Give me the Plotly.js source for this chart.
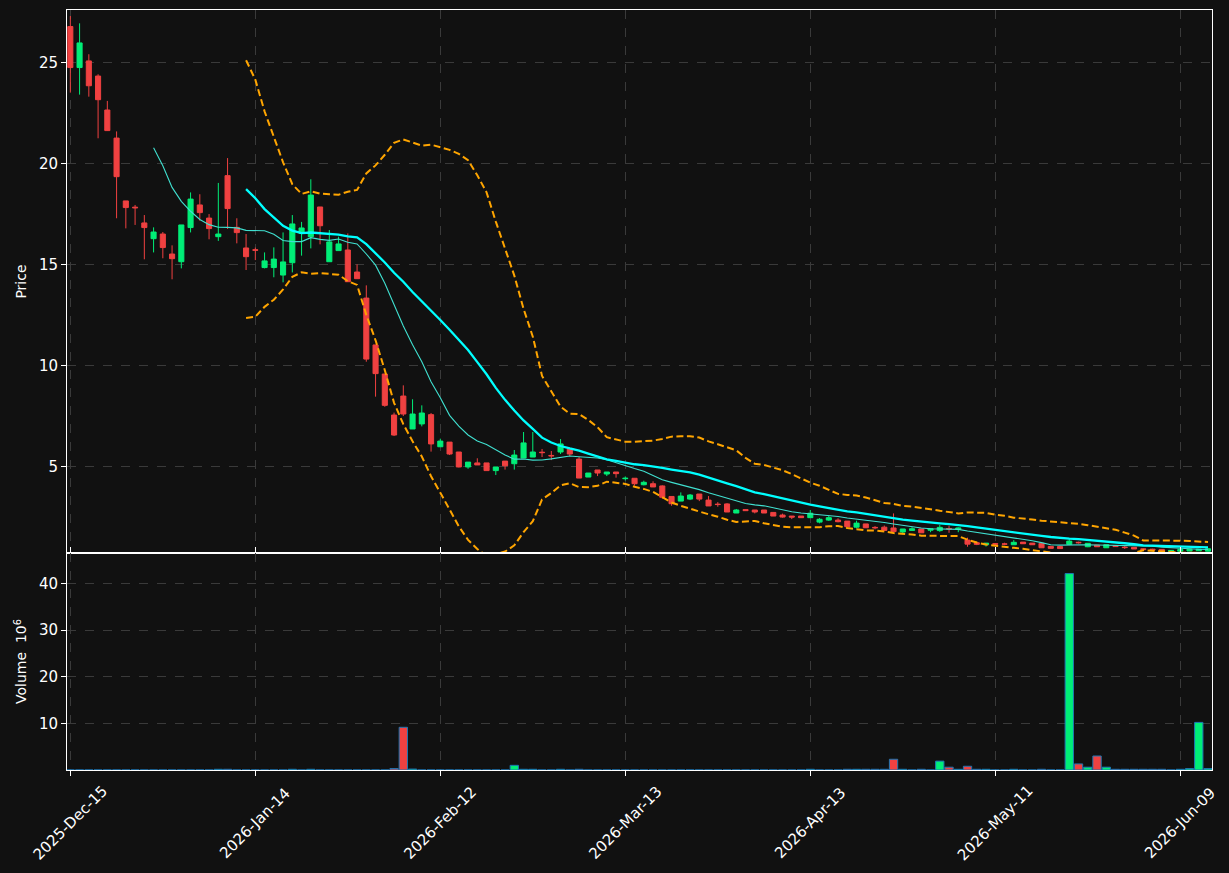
<!DOCTYPE html>
<html>
<head>
<meta charset="utf-8">
<script src="https://cdn.plot.ly/plotly-3.0.1.min.js"></script>
<style>html,body{margin:0;padding:0;background:#111111;}#chart{width:1229px;height:873px;}</style>
</head>
<body>
<div id="chart"></div>
<script>
// Candle index (trading-day position); tick labels every 20 candles
const tickIdx = [0, 20, 40, 60, 80, 100, 120];
const tickLabels = ["2025-Dec-15", "2026-Jan-14", "2026-Feb-12", "2026-Mar-13", "2026-Apr-13", "2026-May-11", "2026-Jun-09"];

const openP = [26.77,24.74,25.07,24.32,22.64,21.25,18.14,17.83,17.05,16.27,16.50,15.51,15.13,16.82,17.94,17.29,16.37,19.39,16.83,15.81,
15.72,14.84,14.84,14.47,15.08,16.53,16.37,17.84,15.13,15.68,15.71,14.62,13.33,11.01,9.57,7.54,8.48,6.85,7.10,7.56,
5.97,6.20,5.71,4.97,5.17,5.17,4.79,5.26,5.13,5.41,5.46,5.70,5.54,5.71,5.86,5.36,4.47,4.82,4.62,4.72,
4.39,4.41,4.09,4.14,4.03,3.51,3.28,3.38,3.63,3.33,3.13,3.14,2.69,2.86,2.84,2.84,2.72,2.59,2.54,2.54,
2.46,2.24,2.34,2.34,2.29,1.99,2.15,1.98,1.99,1.95,1.75,1.83,1.90,1.84,1.82,1.92,1.88,1.35,1.22,1.12,
1.17,1.16,1.12,1.25,1.20,1.19,1.04,1.03,1.14,1.24,1.02,1.10,0.97,1.08,1.00,0.99,0.92,0.90,0.89,0.78,
0.80,0.81,0.82,0.80];
const highP = [27.29,26.93,25.40,24.41,23.09,21.58,18.14,17.94,17.44,16.83,16.60,15.94,16.95,18.56,18.47,17.49,19.03,20.26,17.28,16.50,
15.83,15.59,15.84,16.58,17.44,17.10,19.21,17.84,16.70,16.37,16.53,15.00,13.96,11.01,9.57,7.66,9.01,8.32,8.02,7.64,
6.37,6.20,5.71,5.21,5.40,5.17,4.97,5.26,5.81,6.70,6.70,5.86,5.76,6.35,5.86,5.46,4.67,4.82,4.72,4.72,
4.50,4.41,4.29,4.26,4.06,3.51,3.71,3.63,3.63,3.53,3.23,3.18,2.89,2.87,2.84,2.84,2.72,2.66,2.54,2.54,
2.84,2.44,2.54,2.43,2.29,2.31,2.15,2.04,2.07,2.67,1.90,1.99,1.90,1.91,2.10,2.06,1.98,1.47,1.27,1.20,
1.20,1.22,1.35,1.25,1.20,1.22,1.04,1.03,1.42,1.27,1.19,1.10,1.12,1.08,1.06,0.99,0.94,0.92,0.89,0.85,
0.88,0.90,0.90,0.92];
const lowP = [23.50,23.40,23.30,21.24,21.60,17.28,16.78,16.95,15.25,15.59,15.30,14.26,14.80,16.58,17.16,16.24,16.16,16.75,16.04,14.72,
15.21,14.80,14.36,14.11,14.60,15.43,15.79,15.99,15.13,15.68,14.14,14.29,10.18,8.45,7.95,6.50,7.49,6.85,6.98,5.73,
5.97,5.56,4.95,4.88,5.07,4.79,4.57,4.84,4.84,5.41,5.46,5.46,5.31,5.61,5.51,4.42,4.47,4.52,4.52,4.44,
4.30,4.04,4.06,3.98,3.40,3.05,3.28,3.33,3.28,3.04,3.00,2.74,2.69,2.81,2.67,2.69,2.54,2.46,2.39,2.46,
2.46,2.18,2.30,2.23,2.01,1.93,1.96,1.88,1.83,1.77,1.64,1.80,1.71,1.74,1.76,1.71,1.74,1.02,1.10,1.03,
1.10,1.10,1.12,1.17,1.12,0.97,0.94,0.93,1.14,1.18,1.00,1.02,0.97,1.03,0.91,0.91,0.87,0.85,0.79,0.77,
0.80,0.81,0.82,0.80];
const closeP = [24.74,25.96,23.84,23.15,21.62,19.34,17.81,17.80,16.82,16.60,15.83,15.28,16.95,18.23,17.56,16.77,16.50,17.76,16.57,15.38,
15.70,15.17,15.26,15.12,17.00,16.80,18.43,16.91,16.11,16.01,14.14,14.29,10.31,9.59,8.02,6.55,7.59,7.59,7.64,6.11,
6.25,5.61,4.97,5.21,5.07,4.79,4.97,5.03,5.56,6.16,5.71,5.68,5.52,6.11,5.61,4.42,4.67,4.67,4.72,4.64,
4.41,4.14,4.21,3.98,3.47,3.15,3.53,3.58,3.38,3.04,3.11,2.74,2.84,2.81,2.74,2.69,2.54,2.49,2.49,2.46,
2.68,2.38,2.46,2.26,2.01,2.19,1.96,1.96,1.83,1.77,1.90,1.91,1.71,1.91,1.98,1.90,1.95,1.15,1.14,1.20,
1.15,1.15,1.24,1.17,1.12,0.97,0.94,0.93,1.30,1.22,1.19,1.02,1.12,1.03,0.98,0.91,0.88,0.86,0.79,0.84,
0.88,0.90,0.90,0.92];
// Volume in millions
const volume = [0,0,0,0,0,0,0,0,0,0,0,0,0,0,0,0,0.15,0.15,0,0,
0,0,0,0,0.15,0,0.15,0,0,0,0,0,0,0,0,0.3,9.15,0.2,0,0,
0,0,0,0,0,0,0,0,1.0,0.15,0.15,0,0,0.15,0,0.15,0,0,0,0,
0,0,0,0,0,0,0,0,0,0,0,0,0,0,0,0,0,0,0,0,
0.15,0,0,0,0.15,0.15,0.15,0.15,0.15,2.3,0.15,0,0.15,0,1.9,0.6,0.15,0.8,0.15,0.15,
0,0,0.15,0,0,0.15,0,0,42.1,1.3,0.6,3.0,0.6,0.15,0.15,0.15,0.15,0.15,0.15,0,
0.15,0.3,10.2,0.3];

const UP = '#00ee77', DOWN = '#f04141';
const idx = closeP.map((_, i) => i);

function rolling(arr, n, fn) {
  return arr.map((_, i) => i < n - 1 ? null : fn(arr.slice(i - n + 1, i + 1)));
}
const mean = a => a.reduce((s, v) => s + v, 0) / a.length;
const pstd = a => { const m = mean(a); return Math.sqrt(a.reduce((s, v) => s + (v - m) * (v - m), 0) / a.length); };
const ma10 = rolling(closeP, 10, mean);
const ma20 = rolling(closeP, 20, mean);
const sd20 = rolling(closeP, 20, pstd);
const bbUp = ma20.map((m, i) => m === null ? null : m + 2 * sd20[i]);
const bbLo = ma20.map((m, i) => m === null ? null : m - 2 * sd20[i]);
const volColors = closeP.map((c, i) => c >= openP[i] ? UP : DOWN);

const traces = [
  {type: 'candlestick', x: idx, open: openP, high: highP, low: lowP, close: closeP,
   xaxis: 'x', yaxis: 'y',
   increasing: {line: {color: UP, width: 1}, fillcolor: UP},
   decreasing: {line: {color: DOWN, width: 1}, fillcolor: DOWN},
   whiskerwidth: 0, hoverinfo: 'skip', showlegend: false},
  {type: 'scatter', mode: 'lines', x: idx, y: ma10, xaxis: 'x', yaxis: 'y',
   line: {color: '#40e0d0', width: 1.1}, hoverinfo: 'skip', showlegend: false},
  {type: 'scatter', mode: 'lines', x: idx, y: ma20, xaxis: 'x', yaxis: 'y',
   line: {color: '#00ffff', width: 2.3}, hoverinfo: 'skip', showlegend: false},
  {type: 'scatter', mode: 'lines', x: idx, y: bbUp, xaxis: 'x', yaxis: 'y',
   line: {color: '#ffa500', width: 2, dash: '7px,3.5px'}, hoverinfo: 'skip', showlegend: false},
  {type: 'scatter', mode: 'lines', x: idx, y: bbLo, xaxis: 'x', yaxis: 'y',
   line: {color: '#ffa500', width: 2, dash: '7px,3.5px'}, hoverinfo: 'skip', showlegend: false},
  {type: 'bar', x: idx, y: volume, xaxis: 'x', yaxis: 'y2', width: 0.9,
   marker: {color: volColors, line: {color: '#1f77b4', width: 1}},
   hoverinfo: 'skip', showlegend: false}
];

const font = {family: 'DejaVu Sans, sans-serif', size: 14, color: '#ffffff'};
const tfont = {family: 'DejaVu Sans, sans-serif', size: 15, color: '#ffffff'};
const gridc = '#3a3a3a';
// Rotated date labels centred on each tick (as in the reference)
const annotations = tickIdx.map((v, k) => ({
  x: v, xref: 'x', y: -0.07, yref: 'paper',
  text: tickLabels[k], textangle: -45, showarrow: false,
  xanchor: 'center', yanchor: 'middle', font: tfont
}));
const layout = {
  width: 1229, height: 873,
  paper_bgcolor: '#111111', plot_bgcolor: '#111111',
  font: font,
  margin: {l: 67, r: 17, t: 10, b: 103},
  showlegend: false,
  boxgap: 0.45, boxgroupgap: 0,
  bargap: 0,
  annotations: annotations,
  xaxis: {
    anchor: 'y2', domain: [0, 1], range: [-0.36, 123.43],
    tickmode: 'array', tickvals: tickIdx, showticklabels: false,
    ticks: 'outside', ticklen: 5, tickcolor: '#ffffff',
    showgrid: true, gridcolor: gridc, griddash: 'dash', gridwidth: 1,
    showline: true, linecolor: '#ffffff', linewidth: 1, mirror: 'all',
    zeroline: false, rangeslider: {visible: false}
  },
  yaxis: {
    domain: [0.2855, 1], range: [0.71, 27.59], anchor: 'x',
    tickmode: 'array', tickvals: [5, 10, 15, 20, 25],
    ticks: 'outside', ticklen: 5, tickcolor: '#ffffff',
    showgrid: true, gridcolor: gridc, griddash: 'dash', gridwidth: 1,
    showline: true, linecolor: '#ffffff', linewidth: 1, mirror: true,
    zeroline: false, tickfont: tfont,
    title: {text: 'Price', font: font, standoff: 8}
  },
  yaxis2: {
    domain: [0, 0.2855], range: [0, 46.5], anchor: 'x',
    tickmode: 'array', tickvals: [10, 20, 30, 40],
    ticks: 'outside', ticklen: 5, tickcolor: '#ffffff',
    showgrid: true, gridcolor: gridc, griddash: 'dash', gridwidth: 1,
    showline: true, linecolor: '#ffffff', linewidth: 1, mirror: true,
    zeroline: false, tickfont: tfont,
    title: {text: 'Volume  10<sup>6</sup>', font: font, standoff: 8}
  }
};
Plotly.newPlot('chart', traces, layout, {displayModeBar: false, staticPlot: true});
</script>
</body>
</html>
